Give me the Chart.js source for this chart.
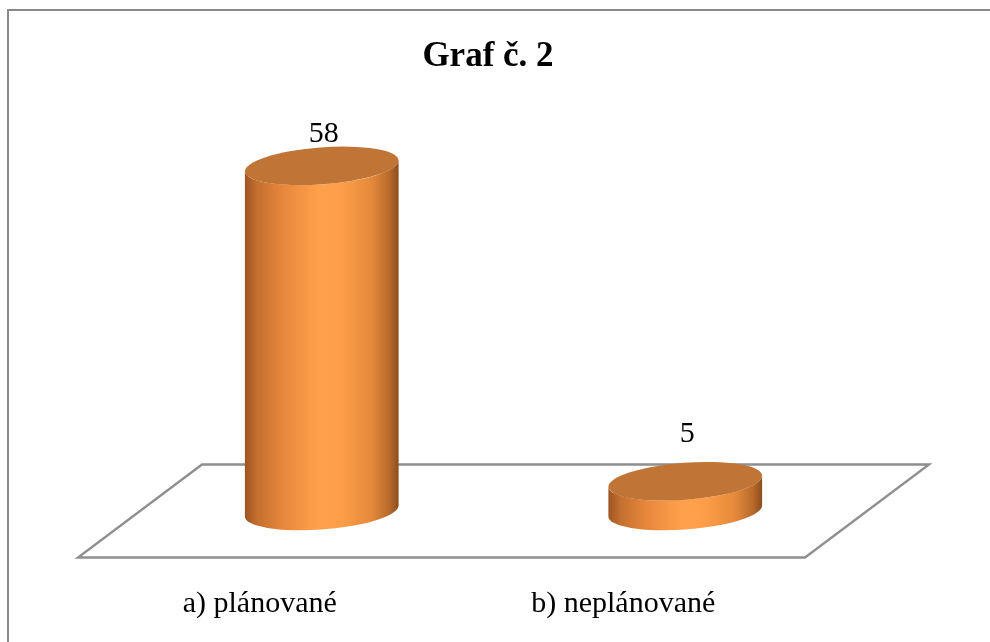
<!DOCTYPE html>
<html>
<head>
<meta charset="utf-8">
<script src="https://cdn.jsdelivr.net/npm/chart.js@4"></script>
<style>
  html, body { margin: 0; padding: 0; background: #ffffff; }
  #wrap { width: 990px; height: 642px; position: relative; }
</style>
</head>
<body>
<div id="wrap"><canvas id="c" width="990" height="642"></canvas></div>
<script>
const chartTitle = 'Graf č. 2';
const categories = ['a) plánované', 'b) neplánované'];
const values = [58, 5];
const yMax = 70;

const cylinderPlugin = {
  id: 'cylinders',
  beforeDatasetsDraw(chart) {
    const ctx = chart.ctx;
    const a = chart.chartArea;
    const dx = 62, dy = 46.5;
    ctx.save();
    // outer frame
    ctx.strokeStyle = '#8a8a8a';
    ctx.lineWidth = 2;
    ctx.beginPath();
    ctx.moveTo(8, 700);
    ctx.lineTo(8, 10);
    ctx.lineTo(1000, 10);
    ctx.stroke();
    // floor
    ctx.strokeStyle = '#8f8f8f';
    ctx.lineWidth = 2.4;
    ctx.lineJoin = 'miter';
    ctx.beginPath();
    ctx.moveTo(a.left + dx, a.bottom - dy);
    ctx.lineTo(a.right + dx, a.bottom - dy);
    ctx.lineTo(a.right - dx, a.bottom + dy);
    ctx.lineTo(a.left - dx, a.bottom + dy);
    ctx.closePath();
    ctx.stroke();
    ctx.restore();
  },
  afterDatasetsDraw(chart) {
    const ctx = chart.ctx;
    const meta = chart.getDatasetMeta(0);
    const theta = -0.075;
    const ry = 18.5;
    ctx.save();
    meta.data.forEach((bar, i) => {
      const cx = bar.x;
      const rx = bar.width / 2;
      const yTop = bar.y;
      const yBot = bar.base;
      const t0 = Math.atan(-ry * Math.tan(theta) / rx);
      // body
      const g = ctx.createLinearGradient(cx - rx, 0, cx + rx, 0);
      g.addColorStop(0, '#9c5522');
      g.addColorStop(0.08, '#c4702f');
      g.addColorStop(0.25, '#e8873c');
      g.addColorStop(0.48, '#ffa14b');
      g.addColorStop(0.62, '#fe9e48');
      g.addColorStop(0.82, '#e58a3b');
      g.addColorStop(0.94, '#b86a2b');
      g.addColorStop(1, '#8a4d1e');
      ctx.fillStyle = g;
      ctx.beginPath();
      ctx.ellipse(cx, yTop, rx, ry, theta, t0, t0 + Math.PI, false);
      ctx.ellipse(cx, yBot, rx, ry, theta, t0 + Math.PI, t0, true);
      ctx.closePath();
      ctx.fill();
      // cap
      ctx.fillStyle = '#c07436';
      ctx.beginPath();
      ctx.ellipse(cx, yTop, rx, ry, theta, 0, Math.PI * 2);
      ctx.fill();
      // value label (projected slightly toward the back plane)
      ctx.fillStyle = '#000000';
      ctx.font = '30px "Liberation Serif", "Times New Roman", serif';
      ctx.textAlign = 'center';
      ctx.textBaseline = 'alphabetic';
      const labelY = yBot - 0.9516 * (yBot - yTop) - 40.7;
      ctx.fillText(String(chart.data.datasets[0].data[i]), cx + 2, labelY);
      // category label at the front edge of the floor
      ctx.font = '30px "Liberation Serif", "Times New Roman", serif';
      ctx.fillText(chart.data.labels[i], cx - 62, 612);
    });
    // title
    ctx.font = 'bold 35px "Liberation Serif", "Times New Roman", serif';
    ctx.textAlign = 'center';
    ctx.fillText(chartTitle, 488, 66);
    ctx.restore();
  }
};

new Chart(document.getElementById('c'), {
  type: 'bar',
  data: {
    labels: categories,
    datasets: [{
      data: values,
      backgroundColor: 'rgba(0,0,0,0)',
      borderWidth: 0,
      categoryPercentage: 1,
      barPercentage: 0.424
    }]
  },
  options: {
    responsive: false,
    animation: false,
    layout: { padding: { left: 140, right: 123, top: 94.5, bottom: 131 } },
    plugins: {
      legend: { display: false },
      title: { display: false },
      tooltip: { enabled: false }
    },
    scales: {
      x: { display: false },
      y: { display: false, min: 0, max: yMax }
    }
  },
  plugins: [cylinderPlugin]
});
</script>
</body>
</html>
